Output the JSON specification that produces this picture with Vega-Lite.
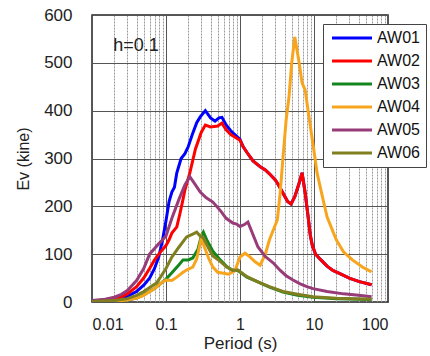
{
  "$schema": "https://vega.github.io/schema/vega-lite/v6.json",
  "width": 296,
  "height": 287,
  "autosize": "none",
  "padding": {"left": 92, "top": 15, "right": 42, "bottom": 54},
  "background": "white",
  "config": {"font": "Liberation Sans", "view": {"stroke": "#222", "strokeWidth": 1.5}},
  "datasets": {
    "note": [{"period": 0.0193, "ev": 535, "label": "h=0.1"}],
    "curves": [
      {"series":"AW01","period":0.01,"ev":2},{"series":"AW01","period":0.015,"ev":3},{"series":"AW01","period":0.02,"ev":5},{"series":"AW01","period":0.025,"ev":8},{"series":"AW01","period":0.03,"ev":12},{"series":"AW01","period":0.04,"ev":22},{"series":"AW01","period":0.05,"ev":35},{"series":"AW01","period":0.06,"ev":50},{"series":"AW01","period":0.07,"ev":70},{"series":"AW01","period":0.08,"ev":95},{"series":"AW01","period":0.09,"ev":130},{"series":"AW01","period":0.1,"ev":170},{"series":"AW01","period":0.11,"ev":210},{"series":"AW01","period":0.12,"ev":230},{"series":"AW01","period":0.13,"ev":240},{"series":"AW01","period":0.14,"ev":270},{"series":"AW01","period":0.16,"ev":300},{"series":"AW01","period":0.18,"ev":310},{"series":"AW01","period":0.2,"ev":325},{"series":"AW01","period":0.23,"ev":353},{"series":"AW01","period":0.26,"ev":375},{"series":"AW01","period":0.29,"ev":387},{"series":"AW01","period":0.34,"ev":400},{"series":"AW01","period":0.4,"ev":385},{"series":"AW01","period":0.46,"ev":378},{"series":"AW01","period":0.52,"ev":385},{"series":"AW01","period":0.57,"ev":386},{"series":"AW01","period":0.65,"ev":370},{"series":"AW01","period":0.75,"ev":358},{"series":"AW01","period":0.85,"ev":350},{"series":"AW01","period":1.0,"ev":340},{"series":"AW01","period":1.1,"ev":325},{"series":"AW01","period":1.25,"ev":312},{"series":"AW01","period":1.5,"ev":295},{"series":"AW01","period":1.9,"ev":282},{"series":"AW01","period":2.2,"ev":276},{"series":"AW01","period":2.5,"ev":268},{"series":"AW01","period":3.0,"ev":255},{"series":"AW01","period":3.3,"ev":245},{"series":"AW01","period":3.8,"ev":228},{"series":"AW01","period":4.4,"ev":210},{"series":"AW01","period":4.9,"ev":205},{"series":"AW01","period":5.5,"ev":220},{"series":"AW01","period":6.2,"ev":245},{"series":"AW01","period":6.9,"ev":270},{"series":"AW01","period":7.6,"ev":228},{"series":"AW01","period":8.3,"ev":180},{"series":"AW01","period":8.9,"ev":140},{"series":"AW01","period":9.5,"ev":118},{"series":"AW01","period":10.5,"ev":100},{"series":"AW01","period":12.4,"ev":88},{"series":"AW01","period":15,"ev":75},{"series":"AW01","period":18,"ev":66},{"series":"AW01","period":22,"ev":60},{"series":"AW01","period":30,"ev":50},{"series":"AW01","period":40,"ev":43},{"series":"AW01","period":60,"ev":36},
      {"series":"AW02","period":0.01,"ev":2},{"series":"AW02","period":0.015,"ev":4},{"series":"AW02","period":0.02,"ev":7},{"series":"AW02","period":0.025,"ev":11},{"series":"AW02","period":0.03,"ev":17},{"series":"AW02","period":0.04,"ev":32},{"series":"AW02","period":0.05,"ev":50},{"series":"AW02","period":0.06,"ev":70},{"series":"AW02","period":0.07,"ev":88},{"series":"AW02","period":0.08,"ev":100},{"series":"AW02","period":0.09,"ev":110},{"series":"AW02","period":0.1,"ev":118},{"series":"AW02","period":0.11,"ev":130},{"series":"AW02","period":0.12,"ev":144},{"series":"AW02","period":0.14,"ev":157},{"series":"AW02","period":0.155,"ev":186},{"series":"AW02","period":0.17,"ev":215},{"series":"AW02","period":0.18,"ev":234},{"series":"AW02","period":0.21,"ev":270},{"series":"AW02","period":0.25,"ev":320},{"series":"AW02","period":0.3,"ev":355},{"series":"AW02","period":0.34,"ev":370},{"series":"AW02","period":0.4,"ev":366},{"series":"AW02","period":0.5,"ev":368},{"series":"AW02","period":0.57,"ev":374},{"series":"AW02","period":0.65,"ev":360},{"series":"AW02","period":0.75,"ev":350},{"series":"AW02","period":0.85,"ev":345},{"series":"AW02","period":1.0,"ev":338},{"series":"AW02","period":1.1,"ev":325},{"series":"AW02","period":1.25,"ev":312},{"series":"AW02","period":1.5,"ev":295},{"series":"AW02","period":1.9,"ev":282},{"series":"AW02","period":2.2,"ev":276},{"series":"AW02","period":2.5,"ev":268},{"series":"AW02","period":3.0,"ev":255},{"series":"AW02","period":3.3,"ev":245},{"series":"AW02","period":3.8,"ev":228},{"series":"AW02","period":4.4,"ev":210},{"series":"AW02","period":4.9,"ev":205},{"series":"AW02","period":5.5,"ev":220},{"series":"AW02","period":6.2,"ev":245},{"series":"AW02","period":6.9,"ev":270},{"series":"AW02","period":7.6,"ev":228},{"series":"AW02","period":8.3,"ev":180},{"series":"AW02","period":8.9,"ev":140},{"series":"AW02","period":9.5,"ev":118},{"series":"AW02","period":10.5,"ev":100},{"series":"AW02","period":12.4,"ev":88},{"series":"AW02","period":15,"ev":75},{"series":"AW02","period":18,"ev":66},{"series":"AW02","period":22,"ev":60},{"series":"AW02","period":30,"ev":50},{"series":"AW02","period":40,"ev":43},{"series":"AW02","period":60,"ev":36},
      {"series":"AW03","period":0.01,"ev":1},{"series":"AW03","period":0.02,"ev":2},{"series":"AW03","period":0.03,"ev":4},{"series":"AW03","period":0.04,"ev":8},{"series":"AW03","period":0.05,"ev":15},{"series":"AW03","period":0.07,"ev":28},{"series":"AW03","period":0.09,"ev":42},{"series":"AW03","period":0.1,"ev":48},{"series":"AW03","period":0.12,"ev":61},{"series":"AW03","period":0.15,"ev":78},{"series":"AW03","period":0.17,"ev":88},{"series":"AW03","period":0.2,"ev":88},{"series":"AW03","period":0.23,"ev":92},{"series":"AW03","period":0.27,"ev":110},{"series":"AW03","period":0.3,"ev":138},{"series":"AW03","period":0.32,"ev":146},{"series":"AW03","period":0.36,"ev":128},{"series":"AW03","period":0.43,"ev":106},{"series":"AW03","period":0.54,"ev":88},{"series":"AW03","period":0.66,"ev":74},{"series":"AW03","period":0.8,"ev":66},{"series":"AW03","period":0.94,"ev":66},{"series":"AW03","period":1.24,"ev":52},{"series":"AW03","period":1.87,"ev":40},{"series":"AW03","period":2.5,"ev":31},{"series":"AW03","period":3.8,"ev":21},{"series":"AW03","period":6,"ev":14},{"series":"AW03","period":9.7,"ev":10},{"series":"AW03","period":20,"ev":7},{"series":"AW03","period":60,"ev":5},
      {"series":"AW04","period":0.01,"ev":1},{"series":"AW04","period":0.02,"ev":2},{"series":"AW04","period":0.03,"ev":4},{"series":"AW04","period":0.04,"ev":8},{"series":"AW04","period":0.05,"ev":14},{"series":"AW04","period":0.07,"ev":28},{"series":"AW04","period":0.09,"ev":42},{"series":"AW04","period":0.1,"ev":46},{"series":"AW04","period":0.12,"ev":45},{"series":"AW04","period":0.14,"ev":52},{"series":"AW04","period":0.17,"ev":62},{"series":"AW04","period":0.19,"ev":67},{"series":"AW04","period":0.23,"ev":73},{"series":"AW04","period":0.26,"ev":90},{"series":"AW04","period":0.3,"ev":134},{"series":"AW04","period":0.33,"ev":115},{"series":"AW04","period":0.38,"ev":90},{"series":"AW04","period":0.43,"ev":73},{"series":"AW04","period":0.5,"ev":62},{"series":"AW04","period":0.6,"ev":60},{"series":"AW04","period":0.7,"ev":58},{"series":"AW04","period":0.85,"ev":65},{"series":"AW04","period":1.0,"ev":94},{"series":"AW04","period":1.17,"ev":102},{"series":"AW04","period":1.35,"ev":95},{"series":"AW04","period":1.6,"ev":84},{"series":"AW04","period":1.87,"ev":77},{"series":"AW04","period":2.2,"ev":100},{"series":"AW04","period":2.5,"ev":130},{"series":"AW04","period":3.2,"ev":172},{"series":"AW04","period":3.5,"ev":230},{"series":"AW04","period":3.8,"ev":300},{"series":"AW04","period":4.2,"ev":380},{"series":"AW04","period":4.6,"ev":430},{"series":"AW04","period":5.0,"ev":500},{"series":"AW04","period":5.5,"ev":554},{"series":"AW04","period":6.3,"ev":500},{"series":"AW04","period":6.9,"ev":458},{"series":"AW04","period":7.6,"ev":443},{"series":"AW04","period":8.5,"ev":390},{"series":"AW04","period":10,"ev":315},{"series":"AW04","period":11,"ev":270},{"series":"AW04","period":12.4,"ev":234},{"series":"AW04","period":15,"ev":178},{"series":"AW04","period":20,"ev":130},{"series":"AW04","period":25,"ev":105},{"series":"AW04","period":33,"ev":88},{"series":"AW04","period":45,"ev":73},{"series":"AW04","period":60,"ev":63},
      {"series":"AW05","period":0.01,"ev":3},{"series":"AW05","period":0.015,"ev":6},{"series":"AW05","period":0.02,"ev":10},{"series":"AW05","period":0.025,"ev":16},{"series":"AW05","period":0.03,"ev":24},{"series":"AW05","period":0.04,"ev":45},{"series":"AW05","period":0.05,"ev":70},{"series":"AW05","period":0.06,"ev":100},{"series":"AW05","period":0.07,"ev":112},{"series":"AW05","period":0.08,"ev":122},{"series":"AW05","period":0.09,"ev":130},{"series":"AW05","period":0.1,"ev":138},{"series":"AW05","period":0.12,"ev":175},{"series":"AW05","period":0.15,"ev":215},{"series":"AW05","period":0.18,"ev":245},{"series":"AW05","period":0.21,"ev":262},{"series":"AW05","period":0.25,"ev":245},{"series":"AW05","period":0.29,"ev":230},{"series":"AW05","period":0.35,"ev":218},{"series":"AW05","period":0.43,"ev":209},{"series":"AW05","period":0.55,"ev":190},{"series":"AW05","period":0.65,"ev":175},{"series":"AW05","period":0.8,"ev":165},{"series":"AW05","period":0.9,"ev":163},{"series":"AW05","period":1.0,"ev":158},{"series":"AW05","period":1.15,"ev":162},{"series":"AW05","period":1.28,"ev":167},{"series":"AW05","period":1.4,"ev":152},{"series":"AW05","period":1.75,"ev":115},{"series":"AW05","period":2.2,"ev":95},{"series":"AW05","period":2.8,"ev":82},{"series":"AW05","period":3.5,"ev":66},{"series":"AW05","period":4.2,"ev":55},{"series":"AW05","period":5.2,"ev":46},{"series":"AW05","period":6.5,"ev":38},{"series":"AW05","period":8,"ev":32},{"series":"AW05","period":9.7,"ev":28},{"series":"AW05","period":15,"ev":22},{"series":"AW05","period":25,"ev":17},{"series":"AW05","period":40,"ev":14},{"series":"AW05","period":60,"ev":11},
      {"series":"AW06","period":0.01,"ev":1},{"series":"AW06","period":0.02,"ev":3},{"series":"AW06","period":0.03,"ev":7},{"series":"AW06","period":0.04,"ev":14},{"series":"AW06","period":0.05,"ev":22},{"series":"AW06","period":0.075,"ev":40},{"series":"AW06","period":0.1,"ev":70},{"series":"AW06","period":0.12,"ev":94},{"series":"AW06","period":0.15,"ev":115},{"series":"AW06","period":0.19,"ev":136},{"series":"AW06","period":0.23,"ev":142},{"series":"AW06","period":0.26,"ev":146},{"series":"AW06","period":0.29,"ev":138},{"series":"AW06","period":0.32,"ev":134},{"series":"AW06","period":0.36,"ev":118},{"series":"AW06","period":0.43,"ev":96},{"series":"AW06","period":0.54,"ev":85},{"series":"AW06","period":0.66,"ev":73},{"series":"AW06","period":0.8,"ev":66},{"series":"AW06","period":0.94,"ev":67},{"series":"AW06","period":1.24,"ev":53},{"series":"AW06","period":1.87,"ev":40},{"series":"AW06","period":2.5,"ev":32},{"series":"AW06","period":3.8,"ev":22},{"series":"AW06","period":6,"ev":16},{"series":"AW06","period":9.7,"ev":11},{"series":"AW06","period":20,"ev":8},{"series":"AW06","period":60,"ev":6}
    ]
  },
  "layer": [
    {
      "data": {"name": "curves"},
      "mark": {"type": "line", "strokeWidth": 3, "clip": true},
      "encoding": {
        "x": {"field": "period", "type": "quantitative",
          "scale": {"type": "log", "domain": [0.01, 100], "nice": false},
          "axis": {"orient": "bottom", "values": [0.02,0.03,0.04,0.05,0.06,0.07,0.08,0.09,0.2,0.3,0.4,0.5,0.6,0.7,0.8,0.9,2,3,4,5,6,7,8,9,20,30,40,50,60,70,80,90],
            "labels": false, "ticks": false, "domain": false, "title": null, "grid": true, "gridColor": "#9a9a9a", "gridDash": [2, 1], "gridWidth": 1}},
        "y": {"field": "ev", "type": "quantitative",
          "scale": {"domain": [0, 600], "nice": false},
          "axis": {"values": [0,100,200,300,400,500,600], "grid": true, "gridColor": "#555", "gridWidth": 1, "ticks": false, "domain": false,
            "labelFontSize": 17, "labelColor": "#222", "labelPadding": 20, "title": "Ev (kine)", "titleFontSize": 16, "titleFontWeight": "normal", "titleColor": "#222", "titlePadding": 12}},
        "color": {"field": "series", "type": "nominal",
          "scale": {"domain": ["AW01","AW02","AW03","AW04","AW05","AW06"], "range": ["#0000FF","#FF0000","#14861E","#F8A51E","#973C78","#7F7F20"]},
          "legend": {"title": null, "orient": "none", "legendX": 231, "legendY": 9, "fillColor": "white", "strokeColor": "#444", "padding": 6,
            "labelFontSize": 16, "labelColor": "#111", "symbolType": "M-4,0H4", "symbolSize": 100, "symbolStrokeWidth": 3, "symbolOffset": 15, "labelOffset": 17, "rowPadding": 7}}
      }
    },
    {
      "data": {"name": "note"},
      "mark": {"type": "text", "align": "left", "baseline": "middle", "fontSize": 18, "color": "#222"},
      "encoding": {
        "x": {"field": "period", "type": "quantitative",
          "scale": {"type": "log", "domain": [0.01, 100], "nice": false},
          "axis": {"orient": "bottom", "values": [0.01, 0.1, 1, 10, 100], "format": "~g", "grid": true, "gridColor": "#555", "gridWidth": 1, "ticks": false, "domain": false,
            "labelFontSize": 16, "labelColor": "#222", "labelPadding": 14, "title": "Period (s)", "titleFontSize": 17, "titleFontWeight": "normal", "titleColor": "#222", "titlePadding": 3}},
        "y": {"field": "ev", "type": "quantitative", "scale": {"domain": [0, 600], "nice": false},
          "axis": {"values": [0,100,200,300,400,500,600], "grid": true, "gridColor": "#555", "gridWidth": 1, "ticks": false, "domain": false,
            "labelFontSize": 17, "labelColor": "#222", "labelPadding": 20, "title": "Ev (kine)", "titleFontSize": 16, "titleFontWeight": "normal", "titleColor": "#222", "titlePadding": 12}},
        "text": {"field": "label"}
      }
    }
  ],
  "resolve": {"axis": {"x": "independent"}}
}
